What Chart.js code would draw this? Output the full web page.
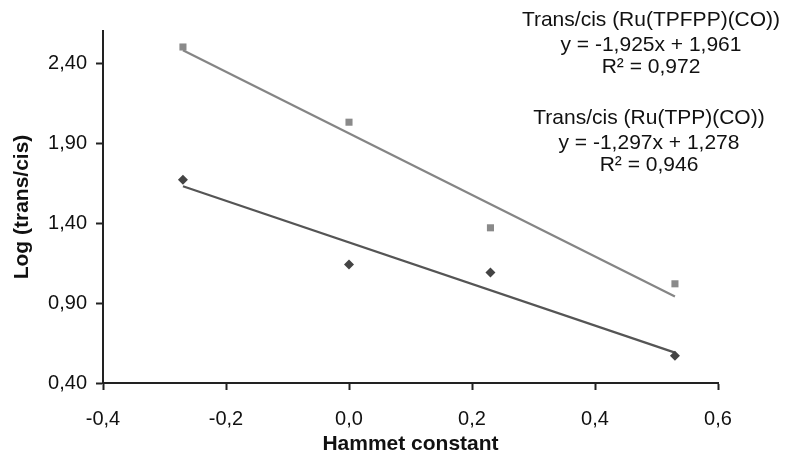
<!DOCTYPE html>
<html>
<head>
<meta charset="utf-8">
<script src="https://cdn.jsdelivr.net/npm/chart.js@4.4.1/dist/chart.umd.min.js"></script>
<style>
  html, body { margin: 0; padding: 0; background: #fff; }
  #wrap { width: 787px; height: 452px; }
</style>
</head>
<body>
<div id="wrap"><canvas id="hammettChart" width="787" height="452"></canvas></div>
<script>
// data
const hammett = [-0.27, 0.0, 0.23, 0.53];
const tpfpp = [2.50, 2.03, 1.37, 1.02];
const tpp = [1.67, 1.14, 1.09, 0.57];
const trendX = [-0.27, 0.53];
const tpfppTrend = [2.48, 0.94];
const tppTrend = [1.63, 0.59];
const xTicks = [-0.4, -0.2, 0.0, 0.2, 0.4, 0.6];
const yTicks = [0.40, 0.90, 1.40, 1.90, 2.40];
const tpfppLabel = ['Trans/cis (Ru(TPFPP)(CO))', 'y = -1,925x + 1,961', 'R² = 0,972'];
const tppLabel = ['Trans/cis (Ru(TPP)(CO))', 'y = -1,297x + 1,278', 'R² = 0,946'];

const FONT = "'Liberation Sans', Arial, Helvetica, sans-serif";
const pts = (xs, ys) => xs.map((x, i) => ({ x, y: ys[i] }));

const equationText = {
    id: 'equationText',
    afterDraw(chart) {
        const ctx = chart.ctx;
        ctx.save();
        ctx.fillStyle = '#111';
        ctx.font = '21px ' + FONT;
        ctx.textAlign = 'center';
        ctx.textBaseline = 'middle';
        const rows = [20, 45, 67];
        tpfppLabel.forEach((t, i) => ctx.fillText(t, 651, rows[i]));
        tppLabel.forEach((t, i) => ctx.fillText(t, 649, rows[i] + 98));
        ctx.restore();
    }
};

new Chart(document.getElementById('hammettChart'), {
    type: 'scatter',
    data: {
        datasets: [
            {
                label: 'TPFPP',
                data: pts(hammett, tpfpp),
                pointStyle: 'rect',
                pointRadius: 5,
                backgroundColor: '#8a8a8a',
                borderColor: '#8a8a8a',
                borderWidth: 0
            },
            {
                label: 'TPP',
                data: pts(hammett, tpp),
                pointStyle: 'rectRot',
                pointRadius: 5,
                backgroundColor: '#444',
                borderColor: '#444',
                borderWidth: 0
            },
            {
                label: 'TPFPP trend',
                data: pts(trendX, tpfppTrend),
                showLine: true,
                pointRadius: 0,
                borderColor: '#858585',
                borderWidth: 2.2
            },
            {
                label: 'TPP trend',
                data: pts(trendX, tppTrend),
                showLine: true,
                pointRadius: 0,
                borderColor: '#555',
                borderWidth: 2.2
            }
        ]
    },
    options: {
        responsive: false,
        animation: false,
        layout: { padding: { top: 31, right: 69, left: 0, bottom: 0 } },
        plugins: {
            legend: { display: false },
            tooltip: { enabled: false }
        },
        scales: {
            x: {
                type: 'linear',
                min: -0.4,
                max: 0.6,
                afterBuildTicks: (s) => { s.ticks = xTicks.map(v => ({ value: v })); },
                afterFit: (s) => { s.height = 69; },
                border: { color: '#222', width: 2 },
                grid: { drawOnChartArea: false, tickLength: 7, tickColor: '#222', tickWidth: 2 },
                ticks: {
                    color: '#111',
                    padding: 17,
                    font: { family: FONT, size: 20 },
                    callback: (v) => v.toFixed(1).replace('.', ',')
                },
                title: {
                    display: true,
                    text: 'Hammet constant',
                    color: '#111',
                    padding: { top: 0, bottom: -3 },
                    font: { family: FONT, size: 21, weight: 'bold', lineHeight: 1 }
                }
            },
            y: {
                type: 'linear',
                min: 0.4,
                max: 2.6,
                afterBuildTicks: (s) => { s.ticks = yTicks.map(v => ({ value: v })); },
                afterFit: (s) => { s.width = 103; },
                border: { color: '#222', width: 2 },
                grid: { drawOnChartArea: false, tickLength: 7, tickColor: '#222', tickWidth: 2 },
                ticks: {
                    color: '#111',
                    padding: 9,
                    font: { family: FONT, size: 20 },
                    callback: (v) => v.toFixed(2).replace('.', ',')
                },
                title: {
                    display: true,
                    text: 'Log (trans/cis)',
                    color: '#111',
                    padding: 12,
                    font: { family: FONT, size: 21, weight: 'bold', lineHeight: 1 }
                }
            }
        }
    },
    plugins: [equationText]
});
</script>
</body>
</html>
